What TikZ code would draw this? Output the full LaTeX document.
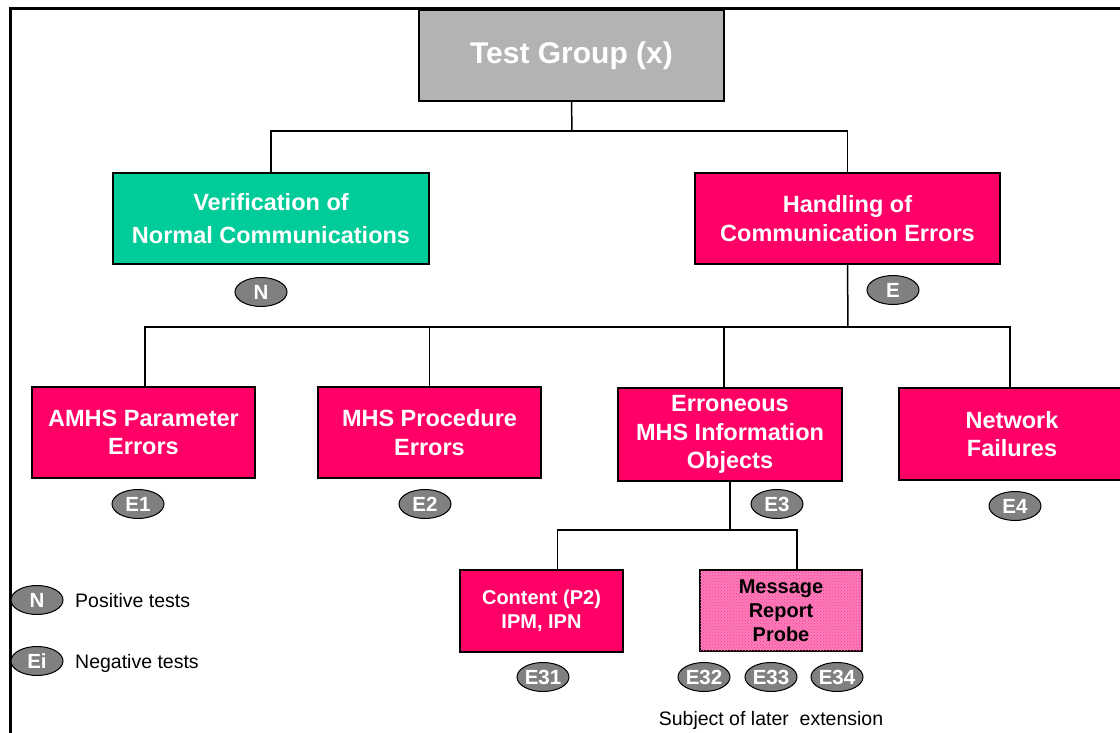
\documentclass[tikz,border=0pt]{standalone}
\usepackage{fontspec}
\setmainfont{Liberation Sans}
\usetikzlibrary{shapes.geometric,patterns,calc}
\definecolor{boxgray}{RGB}{179,179,179}
\definecolor{boxgreen}{RGB}{0,204,153}
\definecolor{boxpink}{RGB}{255,0,102}
\definecolor{lightpink}{RGB}{250,125,185}
\definecolor{dotpink}{RGB}{255,60,150}
\definecolor{tagfill}{RGB}{128,128,128}
\tikzset{
  box/.style={draw=black, line width=1.4pt, inner sep=0pt, align=center,
    text=white, font=\bfseries\fontsize{23.5}{28.5}\selectfont},
  tag/.style={ellipse, draw=black, line width=1pt, fill=tagfill, inner sep=0pt,
    minimum width=52pt, minimum height=29pt, text=white,
    font=\bfseries\fontsize{20.5}{20.5}\selectfont},
  link/.style={line width=1.5pt, draw=black},
  note/.style={inner sep=0pt, font=\fontsize{19.5}{22}\selectfont}
}
\begin{document}
\begin{tikzpicture}[x=1pt,y=-1pt]
\useasboundingbox (0,0) rectangle (1120,733);
\begin{scope}
\clip (0,0) rectangle (1120,733);
\fill[white] (0,0) rectangle (1120,733);
% outer frame
\draw[line width=3pt] (10,740) -- (10,9) -- (1130,9);

% boxes
\node[box, fill=boxgray, minimum width=305pt, minimum height=91pt,
  font=\bfseries\fontsize{30}{34}\selectfont] (top) at (571.5,55.5) {\raisebox{-3pt}{Test Group (x)}};
\node[box, fill=boxgreen, minimum width=316pt, minimum height=91pt,
  font=\bfseries\fontsize{23.5}{33}\selectfont] (ver) at (271,218.5) {Verification of\\Normal Communications};
\node[box, fill=boxpink, minimum width=305pt, minimum height=91pt] (hand) at (847.5,218.5) {Handling of\\Communication Errors};

\node[box, fill=boxpink, minimum width=223pt, minimum height=91pt] (amhs) at (143.5,432.5) {AMHS Parameter\\Errors};
\node[box, fill=boxpink, minimum width=223pt, minimum height=91pt] (mhsp) at (429.5,432.5) {MHS Procedure\\Errors};
\node[box, fill=boxpink, minimum width=224pt, minimum height=93pt] (err) at (730,434.5) {Erroneous\\MHS Information\\Objects};
\node[box, fill=boxpink, minimum width=226pt, minimum height=92pt] (net) at (1012,434) {Network\\Failures};

\node[box, fill=boxpink, minimum width=163pt, minimum height=82pt,
  font=\bfseries\fontsize{20}{24}\selectfont] (cont) at (541.5,611) {Content (P2)\\IPM, IPN};
\node[box, fill=lightpink, postaction={pattern=crosshatch dots, pattern color=dotpink},
  minimum width=162pt, minimum height=81pt, text=black,
  font=\bfseries\fontsize{20}{24}\selectfont] (msg) at (781,610.5) {Message\\Report\\Probe};

% connectors
\coordinate (bus1) at (572,131);
\draw[link] (top.south) -- (bus1);
\draw[link] (ver.north) |- (bus1) -| (hand.north);

\coordinate (bus2) at (848,327);
\draw[link] (hand.south) -- (bus2);
\draw[link] ([xshift=1.5pt]amhs.north) |- (bus2) -| ([xshift=-2pt]net.north);
\draw[link] (mhsp.north) -- (mhsp.north |- bus2);
\draw[link] ([xshift=-6pt]err.north) -- ([xshift=-6pt]err.north |- bus2);

\coordinate (bus3) at (730,530);
\draw[link] (err.south) -- (bus3);
\draw[link] ([xshift=16pt]cont.north) |- (bus3) -| ([xshift=16pt]msg.north);

% test category tags
\node[tag] (tN) at (261,292) {N};
\node[tag] (tE) at (893,290) {E};
\node[tag] (tE1) at (138,504) {E1};
\node[tag] (tE2) at (425,504) {E2};
\node[tag] (tE3) at (777,504) {E3};
\node[tag] (tE4) at (1015,506) {E4};
\node[tag] (tE31) at (543,677) {E31};
\node[tag] (tE32) at (704,677) {E32};
\node[tag] (tE33) at (771,677) {E33};
\node[tag] (tE34) at (837,677) {E34};
\node[note, anchor=base] (later) at (771,725) {Subject of later\ \ extension};

% legend
\node[tag] (lN) at (37,600) {N};
\node[note, anchor=west] (lNt) at (75,601) {Positive tests};
\node[tag] (lE) at (37,661) {Ei};
\node[note, anchor=west] (lEt) at (75,663) {Negative tests};
\end{scope}
\end{tikzpicture}
\end{document}
